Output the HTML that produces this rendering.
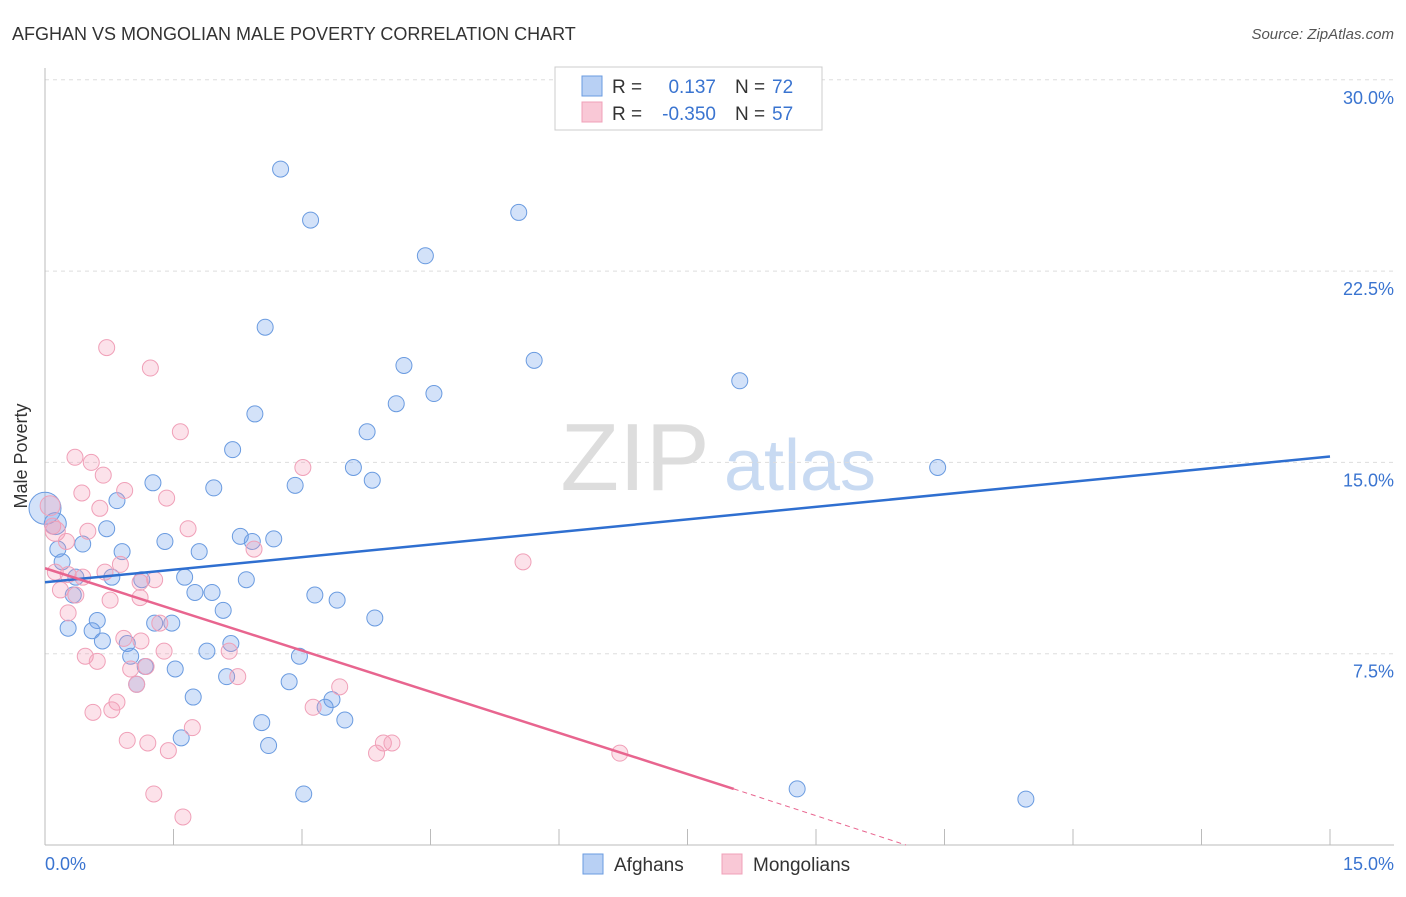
<!DOCTYPE html>
<html><head><meta charset="utf-8"><style>
body{margin:0;background:#fff;font-family:"Liberation Sans",sans-serif;}
svg text{font-family:"Liberation Sans",sans-serif;}
</style></head><body>
<svg id="chart" width="1406" height="892">
<text x="12" y="40" font-size="18" fill="#333">AFGHAN VS MONGOLIAN MALE POVERTY CORRELATION CHART</text>
<text x="1394" y="39" font-size="15" fill="#555" font-style="italic" text-anchor="end">Source: ZipAtlas.com</text>
<g>
<text x="635" y="490" font-size="96" fill="#ddd" font-family="Liberation Serif" text-anchor="middle">ZIP</text>
<text x="800" y="490" font-size="72" fill="#c8daf2" text-anchor="middle">atlas</text>
</g>
<g id="grid"></g>
<g id="axes"></g>
<g id="pts"></g>
<g id="lines"></g>
<text x="27" y="456" font-size="18" fill="#333" text-anchor="middle" transform="rotate(-90 27 456)">Male Poverty</text>
<text x="45" y="870" font-size="18" fill="#3a74d0">0.0%</text>
<text x="1394" y="870" font-size="18" fill="#3a74d0" text-anchor="end">15.0%</text>
<g>
<rect x="555" y="67" width="267" height="63" fill="#fff" stroke="#ccc"/>
<rect x="582" y="76" width="20" height="20" fill="#b8d0f4" stroke="#6a9be0"/>
<rect x="582" y="102" width="20" height="20" fill="#f9c8d6" stroke="#f0a0b8"/>
<text x="612" y="93" font-size="19" fill="#333">R = </text><text x="716" y="93" font-size="19" fill="#3a74d0" text-anchor="end">0.137</text>
<text x="735" y="93" font-size="19" fill="#333">N = </text><text x="772" y="93" font-size="19" fill="#3a74d0">72</text>
<text x="612" y="120" font-size="19" fill="#333">R = </text><text x="716" y="120" font-size="19" fill="#3a74d0" text-anchor="end">-0.350</text>
<text x="735" y="120" font-size="19" fill="#333">N = </text><text x="772" y="120" font-size="19" fill="#3a74d0">57</text>
</g>
<g><rect x="583" y="854" width="20" height="20" fill="#b8d0f4" stroke="#6a9be0"/><text x="614" y="871" font-size="19" fill="#333">Afghans</text></g>
<g><rect x="722" y="854" width="20" height="20" fill="#f9c8d6" stroke="#f0a0b8"/><text x="753" y="871" font-size="19" fill="#333">Mongolians</text></g>
</svg>
<script>
const yTicks=[7.5,15,22.5,30];
const yTickLabels=["7.5%","15.0%","22.5%","30.0%"];
const xTicks=[0,1.5,3,4.5,6,7.5,9,10.5,12,13.5,15];
const afghanX=[2.75,3.1,5.53,4.44,2.57,4.19,5.71,8.11,4.54,4.1,2.45,3.76,2.19,3.6,3.82,2.92,1.97,1.26,10.42,0.84,0.72,2.28,2.42,2.67,1.4,0.44,0.15,0.9,1.8,0.2,0.36,0.78,1.13,1.63,2.35,0.33,1.75,1.95,3.15,3.41,2.08,3.85,0.61,1.28,1.48,0.27,0.55,0.67,2.17,0.96,1.89,2.97,1.0,1.17,1.52,2.12,2.85,1.07,1.73,3.35,3.27,3.5,2.53,1.59,2.61,3.02,8.78,11.45,0.12,0.0];
const afghanY=[26.5,24.5,24.8,23.1,20.3,18.8,19.0,18.2,17.7,17.3,16.9,16.2,15.5,14.8,14.3,14.1,14.0,14.2,14.8,13.5,12.4,12.1,11.9,12.0,11.9,11.8,11.6,11.5,11.5,11.1,10.5,10.5,10.4,10.5,10.4,9.8,9.9,9.9,9.8,9.6,9.2,8.9,8.8,8.7,8.7,8.5,8.4,8.0,7.9,7.9,7.6,7.4,7.4,7.0,6.9,6.6,6.4,6.3,5.8,5.7,5.4,4.9,4.8,4.2,3.9,2.0,2.2,1.8,12.6,13.2];
const mongolX=[0.72,1.23,1.58,0.35,0.54,0.68,0.43,0.93,1.42,3.01,0.64,0.09,0.5,1.67,0.25,2.44,5.58,0.88,0.7,0.27,0.12,0.44,1.11,1.28,0.18,0.36,0.76,1.11,0.27,1.34,0.92,1.12,2.15,1.39,0.47,0.61,1.0,1.18,2.25,1.07,3.44,0.84,3.13,0.78,0.56,1.72,0.96,1.2,1.44,3.95,4.05,3.87,6.71,1.27,1.61,0.12,0.06];
const mongolY=[19.5,18.7,16.2,15.2,15.0,14.5,13.8,13.9,13.6,14.8,13.2,12.5,12.3,12.4,11.9,11.6,11.1,11.0,10.7,10.6,10.7,10.5,10.3,10.4,10.0,9.8,9.6,9.7,9.1,8.7,8.1,8.0,7.6,7.6,7.4,7.2,6.9,7.0,6.6,6.3,6.2,5.6,5.4,5.3,5.2,4.6,4.1,4.0,3.7,4.0,4.0,3.6,3.6,2.0,1.1,12.3,13.3];
const afghanTrend=[10.3,15.23];
const mongolTrend=[10.85,2.2,-0.5];
const mongolTrendX=[0,8.04,10.05];
const NS="http://www.w3.org/2000/svg";
const xs=v=>45+v/15*1285, ys=v=>845-v/7.5*191.3;
function mk(t,a,p){const e=document.createElementNS(NS,t);for(const k in a)e.setAttribute(k,a[k]);p.appendChild(e);return e;}
const grid=document.getElementById('grid'),axes=document.getElementById('axes'),pts=document.getElementById('pts'),lines=document.getElementById('lines');
yTicks.forEach((v,i)=>{
 const l=mk('line',{x1:45,x2:1394,y1:ys(v),y2:ys(v),stroke:'#ddd','stroke-dasharray':'4,4'},grid);
 
 
 const t=mk('text',{x:1394,y:ys(v)+24,'font-size':18,fill:'#3a74d0','text-anchor':'end'},axes);
 t.textContent=yTickLabels[i];
 
 
});
const ax=mk('line',{x1:45,x2:1394,y1:845,y2:845,stroke:'#bbb'},axes);


const ay=mk('line',{x1:45,x2:45,y1:68,y2:845,stroke:'#bbb'},axes);


xTicks.forEach(v=>{
 const l=mk('line',{x1:xs(v),x2:xs(v),y1:829,y2:845,stroke:'#bbb'},axes);
 
 
});
afghanX.forEach((x,i)=>{
 const r=i==afghanX.length-1?16:(i==afghanX.length-2?11:8);
 const c=mk('circle',{cx:xs(x),cy:ys(afghanY[i]),r:r,fill:'rgba(110,160,235,0.3)',stroke:'#6a9be0','stroke-width':1},pts);
 
 
});
mongolX.forEach((x,i)=>{
 const r=i>=mongolX.length-2?10:8;
 const c=mk('circle',{cx:xs(x),cy:ys(mongolY[i]),r:r,fill:'rgba(245,150,180,0.28)',stroke:'#f0a0b8','stroke-width':1},pts);
 
 
});
const bl=mk('line',{x1:xs(0),y1:ys(afghanTrend[0]),x2:xs(15),y2:ys(afghanTrend[1]),stroke:'#2f6fd0','stroke-width':2.5},lines);


const pl=mk('line',{x1:xs(mongolTrendX[0]),y1:ys(mongolTrend[0]),x2:xs(mongolTrendX[1]),y2:ys(mongolTrend[1]),stroke:'#e8658f','stroke-width':2.5},lines);


const pd=mk('line',{x1:xs(mongolTrendX[1]),y1:ys(mongolTrend[1]),x2:xs(mongolTrendX[2]),y2:Math.min(845,ys(mongolTrend[2])),stroke:'#e8658f','stroke-width':1,'stroke-dasharray':'5,4'},lines);


</script>
</body></html>
